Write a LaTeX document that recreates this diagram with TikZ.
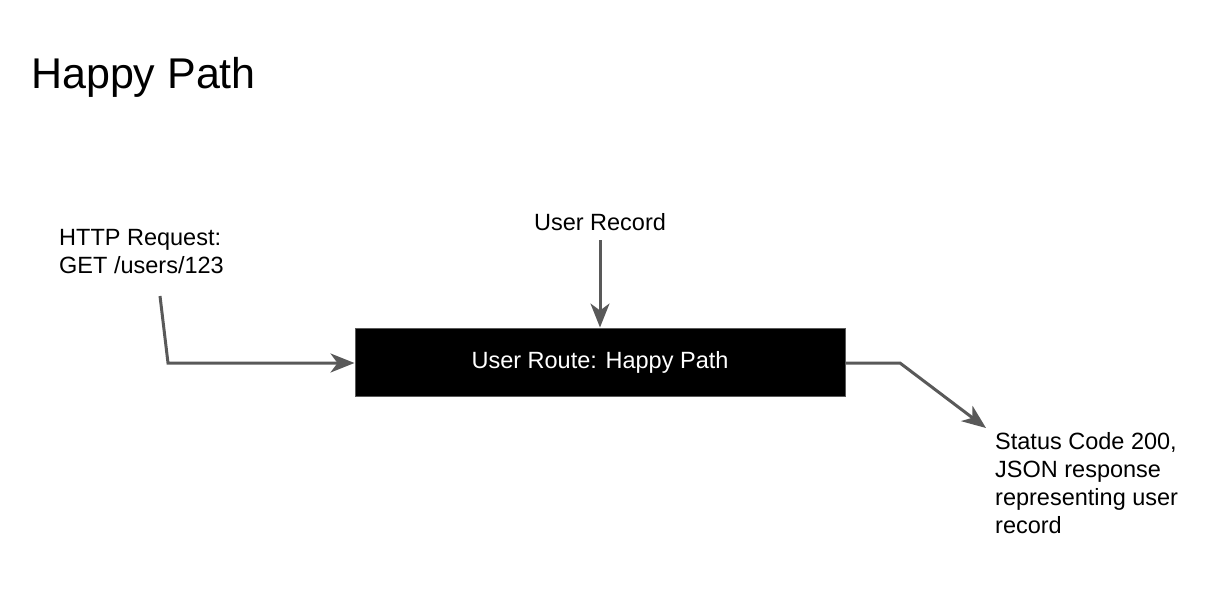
\documentclass[tikz,border=0pt]{standalone}
\usepackage{fontspec}
\setmainfont{Liberation Sans}
\usetikzlibrary{positioning,arrows.meta}
\definecolor{LineGray}{RGB}{89,89,89}

\begin{document}
\begin{tikzpicture}[
    x=1pt, y=-1pt,
    label/.style={inner sep=0pt,align=left,font=\fontsize{23.5}{27.8}\selectfont},
    routebox/.style={rectangle,draw=LineGray,line width=1pt,fill=black,text=white,
        minimum width=490pt,minimum height=68pt,font=\fontsize{23.5}{28}\selectfont},
    arrow/.style={-{Stealth[length=24pt,width=19pt,inset=7pt]},LineGray,line width=3pt}
]
\useasboundingbox (0,0) rectangle (1209,600);

% Title
\node[anchor=base west,inner sep=0pt,font=\fontsize{43}{50}\selectfont] (title) at (31,88) {Happy Path};

% Route and inputs
\node[routebox] (route) at (600,362) {User Route: Happy Path};
\node[label,anchor=base west] (request) at (59,273) {HTTP Request:\\GET /users/123};
\node[label,anchor=base] (record) at (600,230) {User Record};
\node[label,anchor=base west] (status) at (995,533) {Status Code 200,\\JSON response\\representing user\\record};

\coordinate (reqstart) at (160,296);
\coordinate (reqbend) at (168,363);
\coordinate (recstart) at (600,240);
\coordinate (outbend) at (900,363);
\coordinate (outend) at (986,428);

\draw[arrow] (reqstart) -- (reqbend) -- (route.west |- reqbend);
\draw[arrow] (recstart) -- (route.north);
\draw[arrow] (route.east |- outbend) -- (outbend) -- (outend);
\end{tikzpicture}
\end{document}
